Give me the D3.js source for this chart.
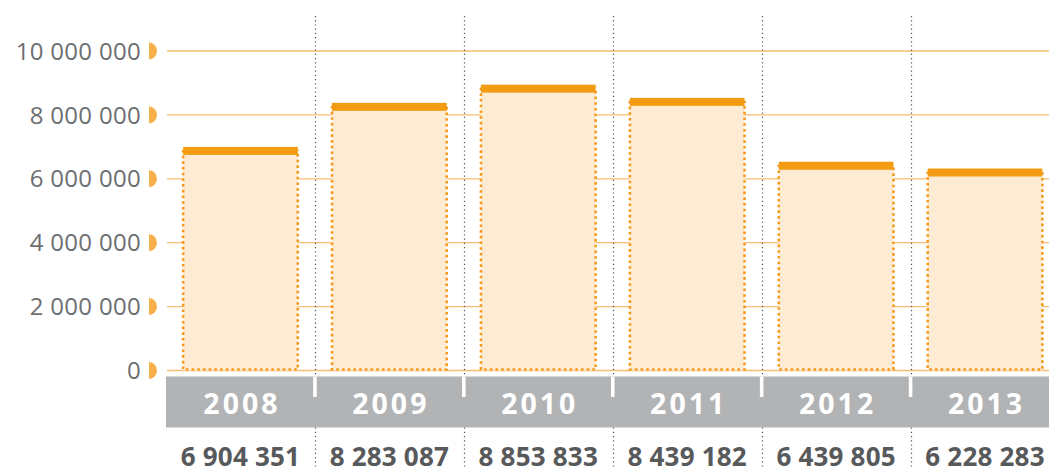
<!DOCTYPE html>
<html>
<head>
<meta charset="utf-8">
<style>
  body { margin: 0; background: #fff; }
  svg { display: block; }
  .ylab { font-family: "Open Sans", sans-serif; font-size: 24px; fill: #6d6e70; letter-spacing: 0.3px; }
  .cat { font-family: "Open Sans", sans-serif; font-size: 28.5px; font-weight: 700; fill: #fff; letter-spacing: 3px; }
  .val { font-family: "Open Sans", sans-serif; font-size: 26px; font-weight: 700; fill: #58595b; letter-spacing: 0.2px; }
</style>
</head>
<body>
<div id="chart"></div>
<script src="https://d3js.org/d3.v7.min.js"></script>
<script>
  // data
  const years = ["2008", "2009", "2010", "2011", "2012", "2013"];
  const values = [6904351, 8283087, 8853833, 8439182, 6439805, 6228283];
  const yTicks = [0, 2000000, 4000000, 6000000, 8000000, 10000000];

  const W = 1049, H = 476;
  const fmt = v => d3.format(",")(v).replace(/,/g, " ");

  const svg = d3.select("#chart").append("svg")
    .attr("width", W)
    .attr("height", H);

  // scales (last band runs past the right edge, as in the original)
  const x = d3.scaleBand().domain(years).range([166, 1059.5]);
  const y = d3.scaleLinear().domain([0, 10000000]).range([370.5, 51]);
  const inset = x.bandwidth() * 0.115;

  // gridlines
  svg.append("g").selectAll("line")
    .data(yTicks)
    .enter().append("line")
    .attr("x1", 167).attr("x2", W)
    .attr("y1", d => y(d)).attr("y2", d => y(d))
    .attr("stroke", "#f8bd72")
    .attr("stroke-width", 1.3);

  // half-circle markers
  svg.append("g").selectAll("path")
    .data(yTicks)
    .enter().append("path")
    .attr("d", d => {
      const cy = y(d);
      return `M149,${cy - 8.5} A8,8.5 0 0 1 149,${cy + 8.5} Z`;
    })
    .attr("fill", "#f8b04c");

  // y labels
  svg.append("g").selectAll("text")
    .data(yTicks)
    .enter().append("text")
    .attr("class", "ylab")
    .attr("x", 141)
    .attr("y", d => y(d))
    .attr("dy", "0.36em")
    .attr("text-anchor", "end")
    .text(d => fmt(d));

  // dotted separators
  svg.append("g").selectAll("line")
    .data(years.slice(1))
    .enter().append("line")
    .attr("x1", d => Math.round(x(d)) + 0.5).attr("x2", d => Math.round(x(d)) + 0.5)
    .attr("y1", 16).attr("y2", 468)
    .attr("stroke", "#555")
    .attr("stroke-width", 1.2)
    .attr("stroke-dasharray", "1.2,3");

  // bars
  const bars = svg.append("g").selectAll("g")
    .data(values)
    .enter().append("g");

  bars.append("rect")
    .attr("x", (d, i) => x(years[i]) + inset)
    .attr("y", d => y(d))
    .attr("width", x.bandwidth() - 2 * inset)
    .attr("height", d => y(0) - y(d))
    .attr("fill", "#fdebd4");

  // dotted border on left, bottom, right
  bars.append("path")
    .attr("d", (d, i) => {
      const x0 = x(years[i]) + inset, x1 = x(years[i]) + x.bandwidth() - inset;
      return `M${x0},${y(d)} L${x0},${y(0) - 1} L${x1},${y(0) - 1} L${x1},${y(d)}`;
    })
    .attr("fill", "none")
    .attr("stroke", "#f59a1c")
    .attr("stroke-width", 2.6)
    .attr("stroke-dasharray", "2.6,3.1");

  // thick cap at the value
  bars.append("rect")
    .attr("x", (d, i) => x(years[i]) + inset)
    .attr("y", d => y(d) - 3)
    .attr("width", x.bandwidth() - 2 * inset)
    .attr("height", 8)
    .attr("fill", "#f39c12");

  // category band
  svg.append("rect")
    .attr("x", 166).attr("y", 376.5)
    .attr("width", W - 166).attr("height", 51)
    .attr("fill", "#b2b3b5");

  svg.append("g").selectAll("rect")
    .data(years.slice(1))
    .enter().append("rect")
    .attr("x", d => x(d) - 1.8)
    .attr("y", 376.5)
    .attr("width", 3.6)
    .attr("height", 20.5)
    .attr("fill", "#fff");

  svg.append("g").selectAll("text")
    .data(years)
    .enter().append("text")
    .attr("class", "cat")
    .attr("x", d => x(d) + x.bandwidth() / 2 + 1.5)
    .attr("y", 414)
    .attr("text-anchor", "middle")
    .text(d => d);

  // value labels
  svg.append("g").selectAll("text")
    .data(values)
    .enter().append("text")
    .attr("class", "val")
    .attr("x", (d, i) => x(years[i]) + x.bandwidth() / 2)
    .attr("y", 466)
    .attr("text-anchor", "middle")
    .text(d => fmt(d));
</script>
</body>
</html>
